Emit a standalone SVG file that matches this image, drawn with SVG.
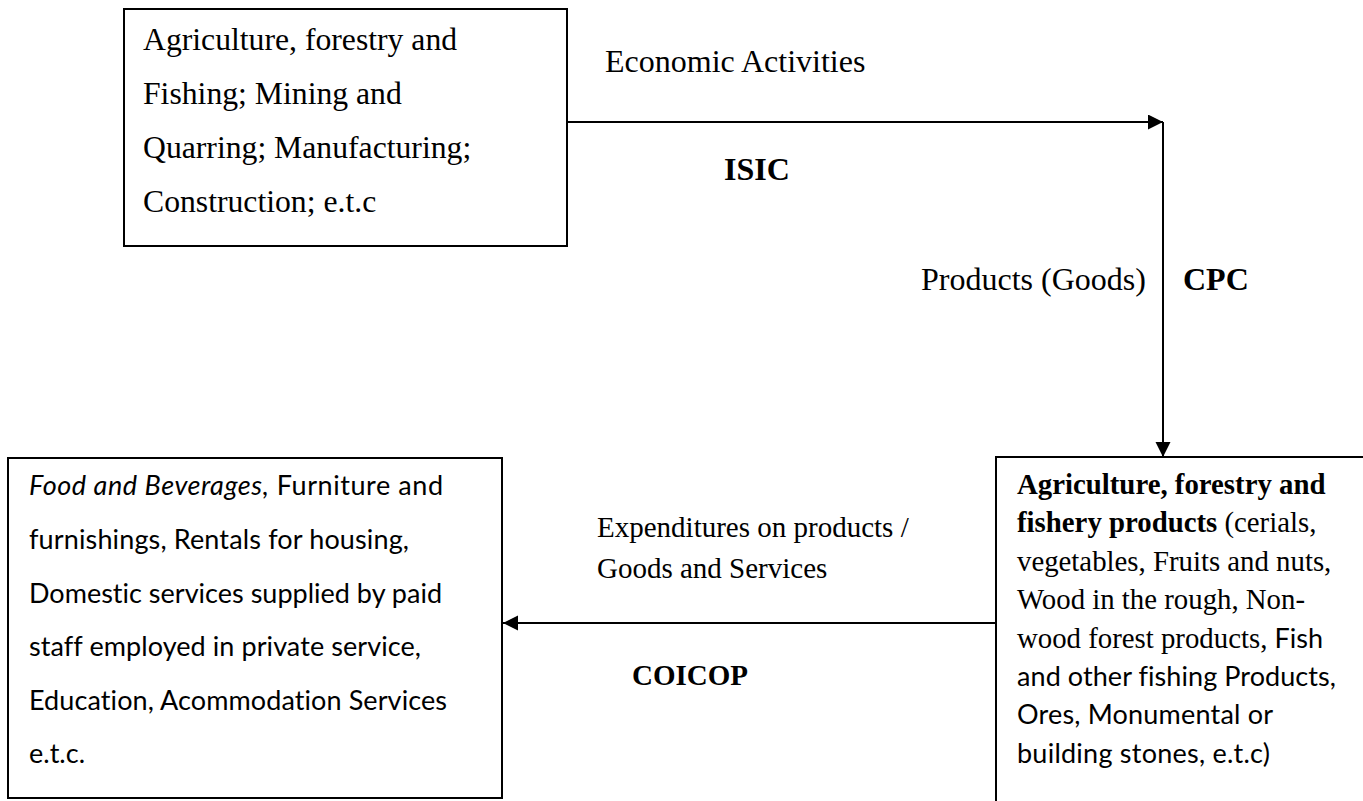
<svg xmlns="http://www.w3.org/2000/svg" width="1363" height="801" viewBox="0 0 1363 801">
<style>
.box{fill:#fff;stroke:#000;stroke-width:2}
.conn{stroke:#000;stroke-width:2;fill:none}
.serif{font-family:"Liberation Serif","Times New Roman",serif;fill:#000}
.sans{font-family:Lato,"Liberation Sans",sans-serif;fill:#000;font-variant-ligatures:none}
.b{font-weight:bold}
</style>
<defs>
<marker id="arr" markerUnits="userSpaceOnUse" markerWidth="16" markerHeight="16" refX="15" refY="7.5" orient="auto">
<path d="M0,0 L15,7.5 L0,15 Z" fill="#000"/>
</marker>
</defs>
<rect width="1363" height="801" fill="#fff"/>
<g id="connectors">
<line class="conn" x1="567" y1="122" x2="1163" y2="122" marker-end="url(#arr)"/>
<line class="conn" x1="1163" y1="122" x2="1163" y2="457" marker-end="url(#arr)"/>
<line class="conn" x1="996" y1="623" x2="503" y2="623" marker-end="url(#arr)"/>
</g>
<g id="labels">
<text class="serif" x="605" y="72" font-size="32">Economic Activities</text>
<text class="serif b" x="724" y="180" font-size="32">ISIC</text>
<text class="serif" x="921" y="290" font-size="32">Products (Goods)</text>
<text class="serif b" x="1183" y="290" font-size="32">CPC</text>
<text class="serif" x="597" y="537" font-size="29">Expenditures on products /</text>
<text class="serif" x="597" y="578" font-size="29">Goods and Services</text>
<text class="serif b" x="632" y="685" font-size="29">COICOP</text>
</g>
<g id="node-activities">
<rect class="box" x="124" y="9" width="443" height="237"/>
<text class="serif" font-size="31.7">
<tspan x="143" y="50">Agriculture, forestry and</tspan>
<tspan x="143" y="104">Fishing; Mining and</tspan>
<tspan x="143" y="158">Quarring; Manufacturing;</tspan>
<tspan x="143" y="212">Construction; e.t.c</tspan>
</text>
</g>
<g id="node-products">
<rect class="box" x="996" y="457" width="400" height="400"/>
<text class="serif b" x="1017" y="494" font-size="28.8">Agriculture, forestry and</text>
<text class="serif" x="1017" y="532" font-size="28.8"><tspan font-weight="bold">fishery products</tspan> (cerials,</text>
<text class="serif" x="1017" y="571" font-size="28.8">vegetables, Fruits and nuts,</text>
<text class="serif" x="1017" y="609" font-size="28.8">Wood in the rough, Non-</text>
<text class="serif" x="1017" y="648" font-size="28.8">wood forest products, <tspan class="sans" font-size="27">Fish</tspan></text>
<text class="sans" x="1017" y="686" font-size="27" textLength="319">and other fishing Products,</text>
<text class="sans" x="1017" y="724" font-size="27" textLength="256">Ores, Monumental or</text>
<text class="sans" x="1017" y="763" font-size="27" textLength="253">building stones, e.t.c)</text>
</g>
<g id="node-expenditures">
<rect class="box" x="8" y="458" width="494" height="340"/>
<text class="sans" x="29" y="495" font-size="27" textLength="414"><tspan font-style="italic">Food and Beverages,</tspan> Furniture and</text>
<text class="sans" x="29" y="549" font-size="27" textLength="380">furnishings, Rentals for housing,</text>
<text class="sans" x="29" y="603" font-size="27" textLength="413">Domestic services supplied by paid</text>
<text class="sans" x="29" y="656" font-size="27" textLength="392">staff employed in private service,</text>
<text class="sans" x="29" y="710" font-size="27" textLength="418">Education, Acommodation Services</text>
<text class="sans" x="29" y="763" font-size="27" textLength="56">e.t.c.</text>
</g>
</svg>
